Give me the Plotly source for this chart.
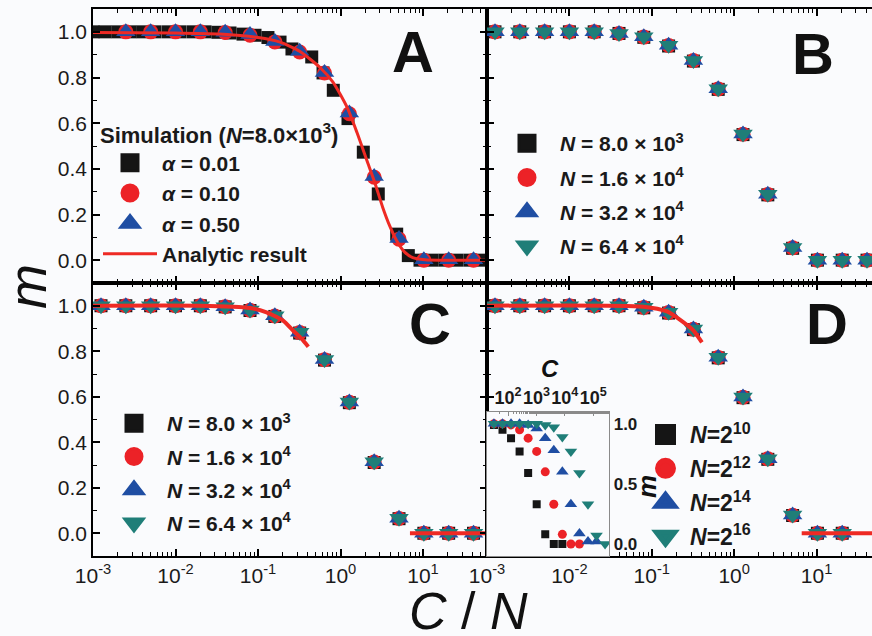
import plotly.graph_objects as go

# ---------------- data ----------------
# C/N sampling used by panels B-D (and A for alpha = 0.10 / 0.50)
cn = [0.00125, 0.0025, 0.005, 0.01, 0.02, 0.04, 0.08, 0.16, 0.32, 0.64,
      1.28, 2.56, 5.12, 10.24, 20.48, 40.96]

# Panel A
a_sq_x = [0.001, 0.0014, 0.002, 0.0028, 0.004, 0.0056, 0.0081, 0.0113, 0.0163,
          0.0228, 0.0327, 0.0458, 0.0658, 0.092, 0.132, 0.185, 0.258, 0.448,
          0.614, 0.818, 1.233, 1.89, 2.87, 4.8, 6.64, 9.2, 12.9, 18.5, 25.8,
          37.1, 51.9]
a_sq_y = [1.0, 1.0, 1.0, 1.0, 1.0, 1.0, 1.0, 1.0, 1.0, 1.0, 0.998, 0.995, 0.99,
          0.985, 0.975, 0.955, 0.925, 0.89, 0.82, 0.744, 0.62, 0.473, 0.29,
          0.114, 0.02, 0.0, 0.0, 0.0, 0.0, 0.0, 0.0]
a_alpha010 = [1.0, 1.0, 1.0, 1.0, 0.997, 0.985, 0.956, 0.912, 0.82, 0.641,
              0.363, 0.092, 0.0, 0.0, 0.0]
a_alpha050 = [1.0, 1.0, 1.0, 1.0, 0.998, 0.988, 0.958, 0.915, 0.822, 0.645,
              0.366, 0.095, 0.002, 0.002, 0.002]
a_curve_x = [0.001, 0.01, 0.0345, 0.1, 0.185, 0.32, 0.56, 0.81, 1.2, 1.58,
             2.09, 2.6, 3.25, 3.95, 4.8, 6.0, 7.5, 10.6, 16.0, 60.0]
a_curve_y = [0.997, 0.995, 0.99, 0.975, 0.955, 0.915, 0.845, 0.78, 0.67, 0.56,
             0.436, 0.34, 0.231, 0.15, 0.085, 0.035, 0.011, 0.002, 0.0, 0.0]

# Panel B
b_n1 = [1.0, 1.0, 1.0, 1.0, 1.0, 0.993, 0.976, 0.938, 0.872, 0.748, 0.55, 0.286, 0.052, 0.0, 0.0, 0.0]
b_n2 = [1.0, 1.0, 1.0, 1.0, 1.0, 0.993, 0.977, 0.94, 0.874, 0.75, 0.552, 0.288, 0.054, 0.0, 0.0, 0.0]
b_n3 = [1.0, 1.0, 1.0, 1.0, 1.0, 0.993, 0.978, 0.941, 0.875, 0.751, 0.553, 0.289, 0.055, 0.0, 0.0, 0.0]
b_n4 = [1.0, 1.0, 1.0, 1.0, 1.0, 0.993, 0.978, 0.941, 0.875, 0.751, 0.553, 0.289, 0.055, 0.0, 0.0, 0.0]

# Panel C
c_n1 = [1.0, 1.0, 1.0, 1.0, 1.0, 0.995, 0.979, 0.953, 0.88, 0.761, 0.574, 0.311, 0.064, 0.0, 0.0, 0.0]
c_n2 = [1.0, 1.0, 1.0, 1.0, 1.0, 0.996, 0.98, 0.955, 0.882, 0.763, 0.576, 0.313, 0.065, 0.0, 0.0, 0.0]
c_n3 = [1.0, 1.0, 1.0, 1.0, 1.0, 0.996, 0.981, 0.956, 0.883, 0.764, 0.577, 0.314, 0.066, 0.0, 0.0, 0.0]
c_n4 = [1.0, 1.0, 1.0, 1.0, 1.0, 0.996, 0.981, 0.956, 0.883, 0.764, 0.577, 0.314, 0.066, 0.0, 0.0, 0.0]
c_curve_x = [0.001, 0.0198, 0.08, 0.127, 0.203, 0.268, 0.339, 0.407, None, 6.95, 60.0]
c_curve_y = [1.0, 1.0, 0.99, 0.971, 0.934, 0.89, 0.854, 0.82, None, 0.0, 0.0]

# Panel D
d_n1 = [1.0, 1.0, 1.0, 1.0, 1.0, 1.0, 0.991, 0.968, 0.895, 0.771, 0.596, 0.325, 0.078, 0.0, 0.0]
d_n2 = [1.0, 1.0, 1.0, 1.0, 1.0, 1.0, 0.992, 0.97, 0.897, 0.773, 0.598, 0.327, 0.079, 0.0, 0.0]
d_n3 = [1.0, 1.0, 1.0, 1.0, 1.0, 1.0, 0.993, 0.971, 0.898, 0.774, 0.599, 0.328, 0.08, 0.0, 0.0]
d_n4 = [1.0, 1.0, 1.0, 1.0, 1.0, 1.0, 0.993, 0.971, 0.898, 0.774, 0.599, 0.328, 0.08, 0.0, 0.0]
d_curve_x = [0.001, 0.079, 0.153, 0.243, 0.321, 0.406, None, 6.6, 60.0]
d_curve_y = [1.0, 0.996, 0.975, 0.927, 0.891, 0.839, None, 0.0, 0.0]

# Inset of D: m versus C
ins_c = [32, 64, 128, 256, 512, 1024, 2048, 4096, 8192, 16384, 32768, 65536,
         131072, 262144]
ins_n10 = [0.99, 0.95, 0.88, 0.77, 0.59, 0.33, 0.08, 0.0, 0.0]
ins_n12 = [1.0, 1.0, 0.99, 0.95, 0.88, 0.77, 0.6, 0.33, 0.08, 0.0, 0.0]
ins_n14 = [1.0, 1.0, 1.0, 1.0, 0.99, 0.96, 0.88, 0.78, 0.6, 0.33, 0.088, 0.02, 0.02]
ins_n16 = [1.0, 1.0, 1.0, 1.0, 1.0, 1.0, 0.99, 0.97, 0.89, 0.77, 0.59, 0.33, 0.07, 0.0]

x_tick_vals = [1e-3, 1e-2, 1e-1, 1e0, 1e1]
x_tick_text = ['10<sup>-3</sup>', '10<sup>-2</sup>', '10<sup>-1</sup>',
               '10<sup>0</sup>', '10<sup>1</sup>']
y_tick_vals = [0.0, 0.2, 0.4, 0.6, 0.8, 1.0]
y_tick_text = ['0.0', '0.2', '0.4', '0.6', '0.8', '1.0']
ins_x_tick_vals = [1e2, 1e3, 1e4, 1e5]
ins_x_tick_text = ['10<sup>2</sup>', '10<sup>3</sup>', '10<sup>4</sup>', '10<sup>5</sup>']
ins_y_tick_vals = [0.0, 0.5, 1.0]
ins_y_tick_text = ['0.0', '0.5', '1.0']

a_names = ['<i>α</i> = 0.01', '<i>α</i> = 0.10', '<i>α</i> = 0.50', 'Analytic result']
bc_names = ['<i>N</i> = 8.0 × 10<sup>3</sup>', '<i>N</i> = 1.6 × 10<sup>4</sup>',
            '<i>N</i> = 3.2 × 10<sup>4</sup>', '<i>N</i> = 6.4 × 10<sup>4</sup>']
d_names = ['<i>N</i>=2<sup>10</sup>', '<i>N</i>=2<sup>12</sup>',
           '<i>N</i>=2<sup>14</sup>', '<i>N</i>=2<sup>16</sup>']

# ---------------- style ----------------
W, H = 872, 636
L, R, T, B = 93, 0, 9, 80
PW, PH = W - L - R, H - T - B
FONT = 'Liberation Sans, Arial, sans-serif'
BG = '#fafbfd'
BLACK, RED, BLUE, TEAL = '#151515', '#ec2227', '#1f4ea3', '#1f7e78'
LINE_RED = '#ee2a24'


def px2x(px):
    return (px - L) / PW


def py2y(py):
    return (H - B - py) / PH


XSPLIT = px2x(487)
YSPLIT = py2y(283)

minor_x = [m * 10.0 ** e for e in range(-3, 2) for m in range(2, 10)]
minor_y = [0.1, 0.3, 0.5, 0.7, 0.9]

fig = go.Figure()

SYM = [('square', BLACK), ('circle', RED), ('triangle-up', BLUE), ('triangle-down', TEAL)]
SIZES = [13, 15, 17, 17]


def add_main(xs, series, xa, ya):
    for (sym, col), ys, sz in zip(SYM, series, SIZES):
        fig.add_trace(go.Scatter(x=xs[:len(ys)], y=ys, mode='markers', xaxis=xa, yaxis=ya,
                                 marker=dict(symbol=sym, color=col, size=sz, line=dict(width=0)),
                                 showlegend=False, hoverinfo='skip'))


# Panel A
fig.add_trace(go.Scatter(x=a_sq_x, y=a_sq_y, mode='markers', xaxis='x', yaxis='y',
                         marker=dict(symbol='square', color=BLACK, size=13, line=dict(width=0)),
                         showlegend=False))
fig.add_trace(go.Scatter(x=cn[1:], y=a_alpha010, mode='markers', xaxis='x', yaxis='y',
                         marker=dict(symbol='circle', color=RED, size=15, line=dict(width=0)),
                         showlegend=False))
fig.add_trace(go.Scatter(x=cn[1:], y=a_alpha050, mode='markers', xaxis='x', yaxis='y',
                         marker=dict(symbol='triangle-up', color=BLUE, size=17, line=dict(width=0)),
                         showlegend=False))
fig.add_trace(go.Scatter(x=a_curve_x, y=a_curve_y, mode='lines', xaxis='x', yaxis='y',
                         line=dict(color=LINE_RED, width=3, shape='spline', smoothing=0.6),
                         showlegend=False))

# Panel B, C, D
add_main(cn, [b_n1, b_n2, b_n3, b_n4], 'x2', 'y2')
add_main(cn, [c_n1, c_n2, c_n3, c_n4], 'x3', 'y3')
fig.add_trace(go.Scatter(x=c_curve_x, y=c_curve_y, mode='lines', xaxis='x3', yaxis='y3',
                         line=dict(color=LINE_RED, width=4, shape='spline', smoothing=0.6),
                         showlegend=False))
add_main(cn, [d_n1, d_n2, d_n3, d_n4], 'x4', 'y4')
fig.add_trace(go.Scatter(x=d_curve_x, y=d_curve_y, mode='lines', xaxis='x4', yaxis='y4',
                         line=dict(color=LINE_RED, width=4, shape='spline', smoothing=0.6),
                         showlegend=False))

# Inset
for (sym, col), ys, sz in zip(SYM, [ins_n10, ins_n12, ins_n14, ins_n16], [8, 9, 11, 11]):
    fig.add_trace(go.Scatter(x=ins_c[:len(ys)], y=ys, mode='markers', xaxis='x5', yaxis='y5',
                             marker=dict(symbol=sym, color=col, size=sz, line=dict(width=0)),
                             showlegend=False))

# Legend-only entries
for i, (sym, col) in enumerate(SYM[:3]):
    fig.add_trace(go.Scatter(x=[None], y=[None], mode='markers', name=a_names[i],
                             marker=dict(symbol=sym, color=col, size=16, line=dict(width=3, color=col)),
                             legend='legend', legendgroup='a%d' % i, xaxis='x', yaxis='y'))
fig.add_trace(go.Scatter(x=[None], y=[None], mode='lines', name=a_names[3],
                         line=dict(color=LINE_RED, width=3), legend='legend',
                         legendgroup='a3', xaxis='x', yaxis='y'))
for lg, ax, names, lw in [('legend2', ('x2', 'y2'), bc_names, 3),
                          ('legend3', ('x3', 'y3'), bc_names, 3),
                          ('legend4', ('x4', 'y4'), d_names, 5)]:
    for i, (sym, col) in enumerate(SYM):
        fig.add_trace(go.Scatter(x=[None], y=[None], mode='markers', name=names[i],
                                 marker=dict(symbol=sym, color=col, size=16, line=dict(width=lw, color=col)),
                                 legend=lg, legendgroup=lg + str(i), xaxis=ax[0], yaxis=ax[1]))

# ---------------- axes ----------------
def xaxis(domain, rng, labels, anchor):
    return dict(domain=domain, anchor=anchor, type='log', range=rng,
                showline=True, linecolor='black', linewidth=1.5, mirror='ticks',
                ticks='inside', ticklen=7, tickwidth=1.5, tickcolor='black',
                tickmode='array', tickvals=x_tick_vals, ticktext=x_tick_text,
                showticklabels=labels, tickfont=dict(family=FONT, size=21, color='#1a1a1a'),
                showgrid=False, zeroline=False, tickangle=0,
                minor=dict(ticks='inside', ticklen=4, tickwidth=1.2, tickcolor='black',
                           tickmode='array', tickvals=minor_x, showgrid=False))


def yaxis(domain, labels, anchor, mirror):
    return dict(domain=domain, anchor=anchor, range=[-0.1, 1.1],
                showline=True, linecolor='black', linewidth=1.5, mirror=mirror,
                ticks='inside', ticklen=7, tickwidth=1.5, tickcolor='black',
                tickmode='array', tickvals=y_tick_vals, ticktext=y_tick_text,
                showticklabels=labels, tickfont=dict(family=FONT, size=21, color='#1a1a1a'),
                showgrid=False, zeroline=False,
                minor=dict(ticks='inside', ticklen=4, tickwidth=1.2, tickcolor='black',
                           tickmode='array', tickvals=minor_y, showgrid=False))


rngL = [-3, -3 + (487 - 93) / 82.5]
rngR = [-3, -3 + (W - 486.5) / 82.5]

layout = dict(
    width=W, height=H, margin=dict(l=L, r=R, t=T, b=B, pad=0),
    paper_bgcolor=BG, plot_bgcolor=BG,
    font=dict(family=FONT, color='black'),
    xaxis=xaxis([0, XSPLIT], rngL, False, 'y'),
    yaxis=yaxis([YSPLIT, 1], True, 'x', 'ticks'),
    xaxis2=xaxis([XSPLIT, 1], rngR, False, 'y2'),
    yaxis2=yaxis([YSPLIT, 1], False, 'x2', False),
    xaxis3=xaxis([0, XSPLIT], rngL, True, 'y3'),
    yaxis3=yaxis([0, YSPLIT], True, 'x3', 'ticks'),
    xaxis4=xaxis([XSPLIT, 1], rngR, True, 'y4'),
    yaxis4=yaxis([0, YSPLIT], False, 'x4', False),
    xaxis5=dict(domain=[px2x(486.7), px2x(609.3)], anchor='y5', side='top', type='log',
                range=[1.25, 5.567], showline=True, linecolor='#8a8a8a', linewidth=1,
                mirror=True, ticks='inside', ticklen=4, tickwidth=1, tickcolor='#8a8a8a',
                tickmode='array', tickvals=ins_x_tick_vals, ticktext=ins_x_tick_text,
                tickfont=dict(family=FONT, size=18, color='#1a1a1a', weight='bold'),
                tickangle=0, showgrid=False, zeroline=False,
                minor=dict(ticks='inside', ticklen=2, tickwidth=1, tickcolor='#8a8a8a',
                           showgrid=False)),
    yaxis5=dict(domain=[0, py2y(411.7)], anchor='x5', side='right', range=[-0.1, 1.1],
                showline=True, linecolor='#8a8a8a', linewidth=1, mirror=True,
                ticks='', tickmode='array', tickvals=ins_y_tick_vals, ticktext=ins_y_tick_text,
                tickfont=dict(family=FONT, size=17, color='#1a1a1a', weight='bold'),
                showgrid=False, zeroline=False),
)

legend_common = dict(xref='paper', yref='paper', xanchor='left', yanchor='top',
                     bgcolor='rgba(0,0,0,0)', borderwidth=0, traceorder='grouped',
                     itemclick=False, itemdoubleclick=False)
layout['legend'] = dict(legend_common, x=px2x(98), y=py2y(114), itemwidth=54, tracegroupgap=0,
                        font=dict(family=FONT, size=21, color='#1a1a1a', weight='bold'),
                        title=dict(text='Simulation (<i>N</i>=8.0×10<sup>3</sup>)',
                                   font=dict(family=FONT, size=22, color='#1a1a1a', weight='bold')))
layout['legend2'] = dict(legend_common, x=px2x(494), y=py2y(123), itemwidth=56, tracegroupgap=4,
                         font=dict(family=FONT, size=21, color='#1a1a1a', weight='bold'))
layout['legend3'] = dict(legend_common, x=px2x(101), y=py2y(403), itemwidth=56, tracegroupgap=3,
                         font=dict(family=FONT, size=21, color='#1a1a1a', weight='bold'))
layout['legend4'] = dict(legend_common, x=px2x(641), y=py2y(413), itemwidth=39, tracegroupgap=1,
                         font=dict(family=FONT, size=23, color='#1a1a1a', weight='bold'))

annotations = []
for txt, cx, cy in [('A', 413, 52), ('B', 813, 53), ('C', 430, 323), ('D', 827, 323)]:
    annotations.append(dict(text=txt, x=px2x(cx), y=py2y(cy), xref='paper', yref='paper',
                            showarrow=False, xanchor='center', yanchor='middle',
                            font=dict(family=FONT, size=58, color='#111', weight='bold')))
annotations.append(dict(text='<i>m</i>', x=px2x(27), y=py2y(287), xref='paper', yref='paper',
                        showarrow=False, textangle=-90, xanchor='center', yanchor='middle',
                        font=dict(family=FONT, size=54, color='#111')))
annotations.append(dict(text='<i>C</i> / <i>N</i>', x=px2x(468), y=py2y(611), xref='paper',
                        yref='paper', showarrow=False, xanchor='center', yanchor='middle',
                        font=dict(family=FONT, size=52, color='#111')))
annotations.append(dict(text='<i>C</i>', x=px2x(550), y=py2y(368), xref='paper', yref='paper',
                        showarrow=False, xanchor='center', yanchor='middle',
                        font=dict(family=FONT, size=24, color='#111', weight='bold')))
annotations.append(dict(text='<i>m</i>', x=px2x(647), y=py2y(487), xref='paper', yref='paper',
                        showarrow=False, textangle=-90, xanchor='center', yanchor='middle',
                        font=dict(family=FONT, size=26, color='#111', weight='bold')))
layout['annotations'] = annotations

fig.update_layout(**layout)
fig.write_html('out.html', config={'displayModeBar': False},
               post_script="document.body.style.margin='0';document.body.style.overflow='hidden';")
